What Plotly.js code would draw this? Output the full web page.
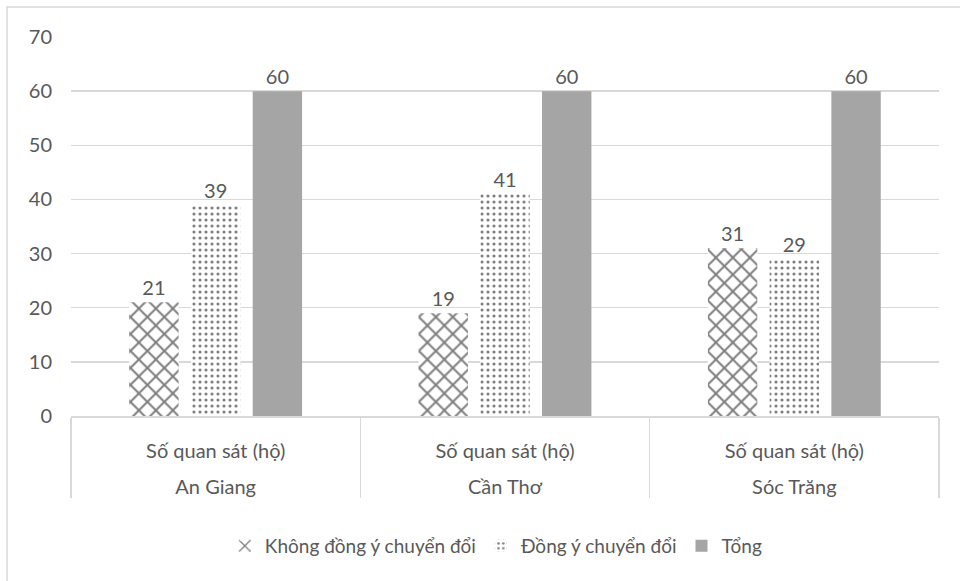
<!DOCTYPE html>
<html>
<head>
<meta charset="utf-8">
<script src="https://cdn.plot.ly/plotly-3.0.1.min.js"></script>
<style>html,body{margin:0;padding:0;background:#fff;}#chart{width:960px;height:581px;}</style>
</head>
<body>
<div id="chart"></div>
<script>
const provinces = ["An Giang", "Cần Thơ", "Sóc Trăng"];
const subLabel = ["Số quan sát (hộ)", "Số quan sát (hộ)", "Số quan sát (hộ)"];
const khongDongY = [21, 19, 31];
const dongY = [39, 41, 29];
const tong = [60, 60, 60];
const seriesNames = ["Không đồng ý chuyển đổi", "Đồng ý chuyển đổi", "Tổng"];
const yTicks = [0, 10, 20, 30, 40, 50, 60, 70];

const FONT = "Lato, 'Open Sans', sans-serif";
const TXT = "#595959";
const GRID = "#d9d9d9";
// inner labels get an empty second line so the outer (province) row sits lower, as in the reference
const x = [provinces, subLabel.map(s => s + "<br> ")];

const common = {
  type: "bar",
  x: x,
  textposition: "outside",
  cliponaxis: false,
  textfont: {family: FONT, size: 20, color: TXT},
  hoverinfo: "skip"
};

const traces = [
  Object.assign({}, common, {
    name: seriesNames[0], y: khongDongY, text: khongDongY.map(String),
    marker: {color: "#ffffff", line: {width: 0},
      pattern: {shape: "x", fgcolor: "#000000", bgcolor: "#ffffff", size: 12, solidity: 0.3, fillmode: "overlay"}}
  }),
  Object.assign({}, common, {
    name: seriesNames[1], y: dongY, text: dongY.map(String),
    marker: {color: "#ffffff", line: {width: 0},
      pattern: {shape: ".", fgcolor: "#000000", bgcolor: "#ffffff", size: 6, solidity: 0.22, fillmode: "overlay"}}
  }),
  Object.assign({}, common, {
    name: seriesNames[2], y: tong, text: tong.map(String),
    marker: {color: "#a5a5a5", line: {width: 0}}
  })
];

const layout = {
  width: 960, height: 581,
  margin: {l: 71, r: 21, t: 37, b: 165},
  paper_bgcolor: "#ffffff", plot_bgcolor: "#ffffff",
  font: {family: FONT, size: 18, color: TXT},
  barmode: "group",
  bargap: 0.36,
  bargroupgap: 0.2,
  showlegend: true,
  legend: {orientation: "h", x: 0.49, xanchor: "center", y: -0.343, yanchor: "middle",
    font: {family: FONT, size: 19, color: TXT}, traceorder: "normal", itemwidth: 30},
  xaxis: {
    type: "multicategory",
    showline: true, linecolor: GRID, linewidth: 1.5,
    showgrid: false, ticks: "",
    showdividers: true, dividercolor: GRID, dividerwidth: 1.5,
    ticklabelstandoff: 16,
    tickfont: {family: FONT, size: 20, color: TXT}
  },
  yaxis: {
    range: [0, 70], tickvals: yTicks, ticktext: yTicks.map(String),
    showgrid: true, gridcolor: GRID, gridwidth: 1.5,
    zeroline: false, showline: false, ticks: "", ticklabelstandoff: 18,
    tickfont: {family: FONT, size: 20, color: TXT}
  },
  shapes: [{
    type: "rect", xref: "paper", yref: "paper",
    x0: -0.0737, x1: 1.04, y0: -0.5, y1: 1.079,
    line: {color: GRID, width: 1.5}, fillcolor: "rgba(0,0,0,0)", layer: "below"
  }]
};

Plotly.newPlot("chart", traces, layout, {displayModeBar: false, staticPlot: true});
</script>
</body>
</html>
